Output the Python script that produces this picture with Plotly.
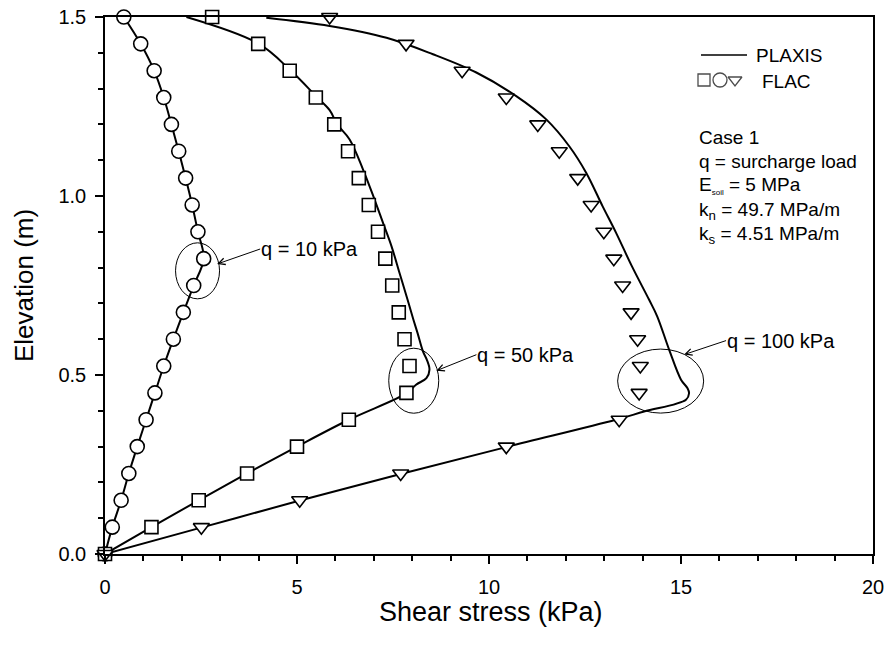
import plotly.graph_objects as go

# Elevation levels of the FLAC output points (m)
flac_elev = [0.0, 0.075, 0.15, 0.225, 0.30, 0.375, 0.45, 0.525, 0.60, 0.675, 0.75,
             0.825, 0.90, 0.975, 1.05, 1.125, 1.20, 1.275, 1.35, 1.425, 1.50]

# FLAC shear stress (kPa)
flac_q10 = [0.0, 0.19, 0.42, 0.62, 0.84, 1.07, 1.30, 1.53, 1.78, 2.04, 2.31,
            2.57, 2.42, 2.27, 2.10, 1.92, 1.73, 1.53, 1.28, 0.93, 0.49]
flac_q50 = [0.0, 1.21, 2.44, 3.70, 5.00, 6.35, 7.85, 7.93, 7.80, 7.65, 7.48,
            7.30, 7.11, 6.87, 6.61, 6.33, 5.97, 5.49, 4.81, 3.99, 2.79]
flac_q100 = [0.0, 2.51, 5.07, 7.70, 10.45, 13.39, 13.91, 13.94, 13.87, 13.70, 13.48,
             13.25, 12.99, 12.66, 12.31, 11.83, 11.27, 10.45, 9.30, 7.84, 5.85]

# PLAXIS profiles (shear stress kPa, elevation m)
plaxis_q10_x = [0.0, 0.19, 0.42, 0.62, 0.84, 1.07, 1.30, 1.53, 1.78, 2.04, 2.31,
                2.57, 2.42, 2.27, 2.10, 1.92, 1.73, 1.53, 1.28, 0.93, 0.49]
plaxis_q10_y = flac_elev

plaxis_q50_x = [0.0, 1.21, 2.44, 3.70, 5.00, 6.35, 7.87, 8.10, 8.37, 8.45, 8.38, 8.28,
                8.14, 8.03, 7.88, 7.67, 7.46, 7.24, 7.02, 6.72, 6.37, 6.05, 5.85,
                5.52, 4.83, 3.99, 2.12]
plaxis_q50_y = [0.0, 0.075, 0.15, 0.225, 0.30, 0.375, 0.45, 0.473, 0.491, 0.515, 0.543, 0.566,
                0.617, 0.655, 0.71, 0.785, 0.86, 0.925, 0.99, 1.074, 1.158, 1.20, 1.24,
                1.276, 1.351, 1.426, 1.50]

plaxis_q100_x = [0.0, 2.55, 5.10, 7.75, 10.50, 13.30, 14.04, 15.13, 15.21, 15.17, 15.00,
                 14.69, 14.38, 14.17, 13.72, 13.31, 12.96, 12.53, 12.09, 11.49, 10.71,
                 9.67, 8.54, 7.33, 5.85, 4.20]
plaxis_q100_y = [0.0, 0.075, 0.15, 0.225, 0.30, 0.375, 0.398, 0.431, 0.449, 0.463, 0.487,
                 0.571, 0.664, 0.71, 0.804, 0.897, 0.971, 1.065, 1.139, 1.214, 1.279,
                 1.345, 1.396, 1.442, 1.475, 1.498]

x_ticks = [0, 5, 10, 15, 20]
y_ticks = [0.0, 0.5, 1.0, 1.5]

FONT = "Liberation Sans, Arial, sans-serif"
W, H = 886, 646
L, R, T, B = 105, 13, 17, 92
PW, PH = W - L - R, H - T - B


def px_to_paper(px, py):
    return (px - L) / PW, (H - B - py) / PH


fig = go.Figure()

line_style = dict(color="black", width=2)
for xs, ys in [(plaxis_q10_x, plaxis_q10_y), (plaxis_q50_x, plaxis_q50_y),
               (plaxis_q100_x, plaxis_q100_y)]:
    fig.add_trace(go.Scatter(x=xs, y=ys, mode="lines", line=line_style,
                             line_shape="spline", cliponaxis=False, showlegend=False))

marker_line = dict(color="black", width=1.6)
series_markers = [(flac_q10, "circle", 14), (flac_q50, "square", 13),
                  (flac_q100, "triangle-down", 14)]
for xs, sym, size in series_markers:
    fig.add_trace(go.Scatter(x=xs, y=flac_elev, mode="markers", cliponaxis=False,
                             marker=dict(symbol=sym, size=size, color="white", line=marker_line),
                             showlegend=False))

# Key drawn on an overlay axis spanning the plot area in paper units
key_line_x = [px_to_paper(701, 0)[0], px_to_paper(747, 0)[0]]
key_line_y = [px_to_paper(0, 55)[1]] * 2
fig.add_trace(go.Scatter(x=key_line_x, y=key_line_y, mode="lines", xaxis="x2", yaxis="y2",
                         line=dict(color="black", width=1.5), showlegend=False))
key_sym_x = [px_to_paper(p, 0)[0] for p in (704, 720, 735)]
key_sym_y = [px_to_paper(0, 80)[1]] * 3
fig.add_trace(go.Scatter(x=key_sym_x, y=key_sym_y, mode="markers", xaxis="x2", yaxis="y2",
                         marker=dict(symbol=["square", "circle", "triangle-down"], size=[12, 14, 12],
                                     color="white", line=dict(color="black", width=1.3)),
                         cliponaxis=False, showlegend=False))

# Ellipses around the highlighted regions, sized in pixels
for cx, cy, rx, ry in [(2.41, 0.791, 22, 28), (8.04, 0.484, 25, 32.5), (14.47, 0.483, 43, 32)]:
    fig.add_shape(type="circle", xref="x", yref="y", xsizemode="pixel", ysizemode="pixel",
                  xanchor=cx, yanchor=cy, x0=-rx, x1=rx, y0=-ry, y1=ry,
                  line=dict(color="black", width=1))

# Callout labels
for txt, tx, ty, ax, ay in [("q = 10 kPa", 2.92, 0.81, 43, -15),
                            ("q = 50 kPa", 8.63, 0.512, 40, -16),
                            ("q = 100 kPa", 15.08, 0.557, 42, -14)]:
    fig.add_annotation(x=tx, y=ty, ax=ax, ay=ay, text=txt, showarrow=True,
                       arrowhead=5, arrowsize=1.3, arrowwidth=1, arrowcolor="black",
                       xanchor="left", yanchor="middle", standoff=0, startstandoff=0,
                       borderpad=0, font=dict(family=FONT, size=20, color="black"))

kx, ky = px_to_paper(754, 55)
fig.add_annotation(xref="paper", yref="paper", x=kx, y=ky, text="PLAXIS", showarrow=False,
                   xanchor="left", yanchor="middle",
                   font=dict(family=FONT, size=19, color="black"))
kx, ky = px_to_paper(760, 81)
fig.add_annotation(xref="paper", yref="paper", x=kx, y=ky, text="FLAC", showarrow=False,
                   xanchor="left", yanchor="middle",
                   font=dict(family=FONT, size=19, color="black"))

# Case description
case_lines = [
    ("Case 1", 137),
    ("q = surcharge load", 161),
    ("E<sub><span style='font-size:8px'>soil</span></sub> = 5 MPa", 186),
    ("k<sub>n</sub> = 49.7 MPa/m", 211),
    ("k<sub>s</sub> = 4.51 MPa/m", 235),
]
for txt, py in case_lines:
    cx, cy = px_to_paper(697, py)
    fig.add_annotation(xref="paper", yref="paper", x=cx, y=cy, text=txt, showarrow=False,
                       xanchor="left", yanchor="middle",
                       font=dict(family=FONT, size=19, color="black"))

# Axis titles
tx, ty = px_to_paper(491, 612)
fig.add_annotation(xref="paper", yref="paper", x=tx, y=ty, text="Shear stress (kPa)",
                   showarrow=False, xanchor="center", yanchor="middle",
                   font=dict(family=FONT, size=27, color="black"))
tx, ty = px_to_paper(24, 286)
fig.add_annotation(xref="paper", yref="paper", x=tx, y=ty, text="Elevation (m)",
                   showarrow=False, textangle=-90, xanchor="center", yanchor="middle",
                   font=dict(family=FONT, size=26, color="black"))

axis_common = dict(showline=True, linecolor="black", linewidth=1.5, mirror=True,
                   ticks="outside", ticklen=8, tickwidth=1.5, tickcolor="black",
                   showgrid=False, zeroline=False, automargin=False,
                   tickfont=dict(family=FONT, size=20, color="black"))

fig.update_xaxes(range=[0, 20], tickvals=x_ticks, ticktext=[str(v) for v in x_ticks],
                 ticklabelstandoff=6,
                 minor=dict(dtick=1, ticks="outside", ticklen=5, tickwidth=1.5, tickcolor="black"),
                 **axis_common)
fig.update_yaxes(range=[0, 1.5], tickvals=y_ticks, ticktext=[f"{v:.1f}" for v in y_ticks],
                 ticklabelstandoff=5,
                 minor=dict(dtick=0.1, ticks="outside", ticklen=5, tickwidth=1.5, tickcolor="black"),
                 **axis_common)

fig.update_layout(
    width=W, height=H, margin=dict(l=L, r=R, t=T, b=B),
    plot_bgcolor="white", paper_bgcolor="white", showlegend=False,
    xaxis2=dict(overlaying="x", range=[0, 1], visible=False, fixedrange=True),
    yaxis2=dict(overlaying="y", range=[0, 1], visible=False, fixedrange=True),
)

fig.write_html("out.html")
